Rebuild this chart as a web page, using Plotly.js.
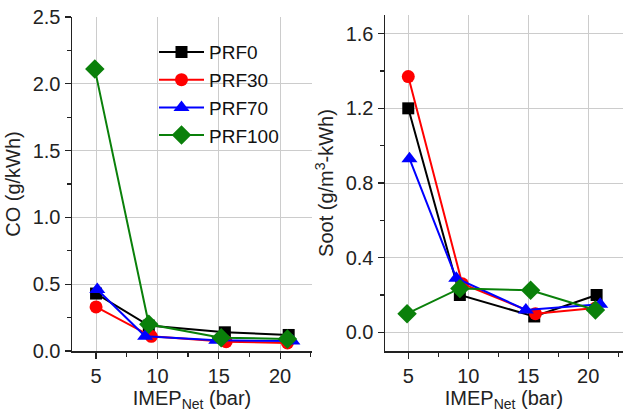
<!DOCTYPE html>
<html><head><meta charset="utf-8">
<script src="https://cdn.plot.ly/plotly-3.0.1.min.js"></script>
<style>html,body{margin:0;padding:0;background:#fff}#chart{width:624px;height:414px}</style>
</head><body><div id="chart"></div>
<script>
var fuels = ['PRF0', 'PRF30', 'PRF70', 'PRF100'];
var colors = ['#000000', '#ff0000', '#0000ff', '#0a800a'];
var symbols = ['square', 'circle', 'triangle-up', 'diamond'];
var sizes = [12, 13, 14, 15];

var imepPRF0 = [5.0, 9.3, 15.5, 20.7];
var imepPRF30 = [5.0, 9.5, 15.6, 20.6];
var imepPRF70 = [5.1, 9.0, 14.8, 21.0];
var imepPRF100 = [4.9, 9.3, 15.2, 20.6];

var coPRF0 = [0.43, 0.19, 0.14, 0.12];
var coPRF30 = [0.33, 0.11, 0.07, 0.06];
var coPRF70 = [0.46, 0.11, 0.08, 0.075];
var coPRF100 = [2.11, 0.20, 0.10, 0.09];

var sootPRF0 = [1.20, 0.20, 0.085, 0.20];
var sootPRF30 = [1.37, 0.26, 0.10, 0.13];
var sootPRF70 = [0.93, 0.29, 0.12, 0.15];
var sootPRF100 = [0.10, 0.235, 0.225, 0.12];

var xTicks = [5, 10, 15, 20];
var coTicks = [0, 0.5, 1.0, 1.5, 2.0, 2.5];
var coTickText = ['0.0', '0.5', '1.0', '1.5', '2.0', '2.5'];
var sootTicks = [0, 0.4, 0.8, 1.2, 1.6];
var sootTickText = ['0.0', '0.4', '0.8', '1.2', '1.6'];

var xs = [imepPRF0, imepPRF30, imepPRF70, imepPRF100];
var cos = [coPRF0, coPRF30, coPRF70, coPRF100];
var soots = [sootPRF0, sootPRF30, sootPRF70, sootPRF100];

var traces = [];
for (var i = 0; i < fuels.length; i++) {
  traces.push({x: xs[i], y: cos[i], name: fuels[i], type: 'scatter', mode: 'lines+markers',
    xaxis: 'x', yaxis: 'y', line: {color: colors[i], width: 2},
    marker: {symbol: symbols[i], size: sizes[i], color: colors[i]}, showlegend: true});
}
for (var i = 0; i < fuels.length; i++) {
  traces.push({x: xs[i], y: soots[i], name: fuels[i], type: 'scatter', mode: 'lines+markers',
    xaxis: 'x2', yaxis: 'y2', line: {color: colors[i], width: 2},
    marker: {symbol: symbols[i], size: sizes[i], color: colors[i]}, showlegend: false});
}

var font = {family: 'Liberation Sans, Arial, sans-serif', size: 20, color: '#222'};
function axisBase() {
  return {showline: true, linecolor: '#222', linewidth: 1.5, mirror: false,
    ticks: 'outside', ticklen: 6, tickwidth: 1.2, tickcolor: '#222',
    showgrid: true, gridcolor: '#cccccc', gridwidth: 1, zeroline: false,
    tickfont: font};
}
function mirrorAxis(side, range, tickvals, minorDtick, minorVals, anchor, overlay, domain) {
  var a = {showline: true, linecolor: '#222', linewidth: 1.5, side: side, range: range,
    tickvals: tickvals, ticks: 'inside', ticklen: 6, tickwidth: 1.2, tickcolor: '#222',
    showticklabels: false, showgrid: false, zeroline: false, anchor: anchor,
    overlaying: overlay, domain: domain};
  a.minor = minorVals ? {tickvals: minorVals, ticklen: 4, ticks: 'inside', tickcolor: '#222', showgrid: false}
                      : {dtick: minorDtick, ticklen: 4, ticks: 'inside', tickcolor: '#222', showgrid: false};
  return a;
}
var xMinor = [7.5, 12.5, 17.5, 22.5];
var xa = axisBase();
xa.domain = [72/624, 312/624]; xa.range = [3.04, 22.6]; xa.tickvals = xTicks;
xa.minor = {tickvals: xMinor, ticklen: 4, ticks: 'outside', tickcolor: '#222', showgrid: false};
xa.title = {text: 'IMEP<sub>Net</sub> (bar)', font: font, standoff: 4};
xa.anchor = 'y';
var ya = axisBase();
ya.domain = [0, 0.994]; ya.range = [0, 2.5]; ya.tickvals = coTicks; ya.ticktext = coTickText;
ya.minor = {dtick: 0.25, ticklen: 4, ticks: 'outside', tickcolor: '#222', showgrid: false};
ya.title = {text: 'CO (g/kWh)', font: font, standoff: 6};
ya.anchor = 'x';
var xb = axisBase();
xb.domain = [385/624, 623/624]; xb.range = [3.06, 22.9]; xb.tickvals = xTicks;
xb.minor = {tickvals: xMinor, ticklen: 4, ticks: 'outside', tickcolor: '#222', showgrid: false};
xb.title = {text: 'IMEP<sub>Net</sub> (bar)', font: font, standoff: 4};
xb.anchor = 'y2';
var yb = axisBase();
yb.domain = [0, 1]; yb.range = [-0.1, 1.7]; yb.tickvals = sootTicks; yb.ticktext = sootTickText;
yb.minor = {dtick: 0.2, ticklen: 4, ticks: 'outside', tickcolor: '#222', showgrid: false};
yb.title = {text: 'Soot (g/m<sup>3</sup>-kWh)', font: font, standoff: 6};
yb.anchor = 'x2';

var layout = {
  width: 624, height: 414,
  margin: {l: 0, r: 0, t: 15, b: 63},
  paper_bgcolor: '#fff', plot_bgcolor: '#fff',
  font: font,
  showlegend: true,
  legend: {x: 154/624, y: 0.946, xanchor: 'left', yanchor: 'top', bgcolor: 'rgba(0,0,0,0)',
    borderwidth: 0, font: {family: 'Liberation Sans, Arial, sans-serif', size: 19, color: '#111'},
    tracegroupgap: 0, itemwidth: 45},
  xaxis: xa, yaxis: ya, xaxis2: xb, yaxis2: yb,
  xaxis3: mirrorAxis('top', xa.range, xTicks, null, xMinor, 'y', 'x', xa.domain),
  yaxis3: mirrorAxis('right', ya.range, coTicks, 0.25, null, 'x', 'y', ya.domain),
  xaxis4: mirrorAxis('top', xb.range, xTicks, null, xMinor, 'y2', 'x2', xb.domain),
  yaxis4: mirrorAxis('right', yb.range, sootTicks, 0.2, null, 'x2', 'y2', yb.domain)
};
Plotly.newPlot('chart', traces, layout, {displayModeBar: false, staticPlot: true});
</script></body></html>
